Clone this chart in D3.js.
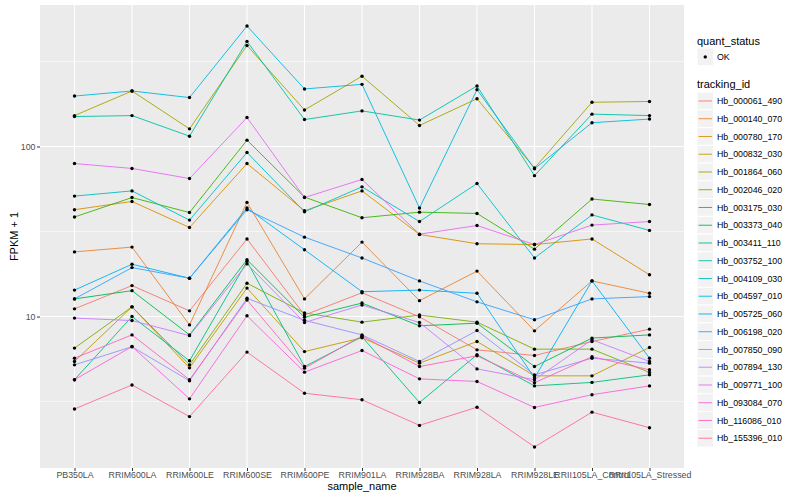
<!DOCTYPE html>
<html>
<head>
<meta charset="utf-8">
<script src="https://cdn.jsdelivr.net/npm/d3@7"></script>
<style>
  body { margin: 0; background: #fff; }
  text { font-family: "Liberation Sans", Arial, sans-serif; }
</style>
</head>
<body>
<div id="chart"></div>
<script>
var width = 800, height = 500;
var panel = { left: 40, right: 684, top: 5, bottom: 468 };

// x categories
var samples = ["PB350LA", "RRIM600LA", "RRIM600LE", "RRIM600SE", "RRIM600PE", "RRIM901LA",
  "RRIM928BA", "RRIM928LA", "RRIM928LE", "RRII105LA_Control", "RRII105LA_Stressed"];

// one array per gene (FPKM + 1), in sample order
var hb_000061_490 = [11.1, 15.2, 10.8, 28.6, 10.2, 13.8, 9.96, 6.37, 5.90, 7.13, 8.43];
var hb_000140_070 = [24.0, 25.6, 8.93, 46.9, 12.7, 27.4, 12.4, 18.5, 8.24, 16.2, 13.7];
var hb_000780_170 = [42.5, 47.5, 33.4, 79.4, 41.9, 54.8, 30.4, 26.8, 26.5, 28.6, 17.6];
var hb_000832_030 = [5.44, 11.4, 4.99, 14.7, 6.22, 7.50, 5.32, 7.13, 4.48, 4.48, 6.58];
var hb_001864_060 = [152, 212, 127, 393, 164, 259, 133, 191, 74.7, 182, 184];
var hb_002046_020 = [6.52, 11.4, 5.20, 15.7, 10.5, 9.27, 10.2, 9.27, 6.43, 6.43, 4.69];
var hb_003175_030 = [38.5, 50.1, 40.9, 109, 50.4, 38.1, 41.1, 40.4, 24.9, 49.1, 45.6];
var hb_003373_040 = [12.7, 14.2, 7.80, 21.6, 9.90, 12.0, 8.82, 9.14, 5.08, 7.47, 7.80];
var hb_003411_110 = [4.25, 10.0, 5.49, 21.1, 5.08, 7.60, 3.12, 5.96, 3.91, 4.10, 4.54];
var hb_003752_100 = [150, 152, 115, 415, 144, 162, 143, 227, 67.4, 155, 152];
var hb_004109_030 = [51.1, 54.8, 36.9, 92.2, 41.3, 57.9, 36.2, 60.6, 22.1, 39.6, 32.1];
var hb_004597_010 = [198, 212, 194, 511, 218, 232, 43.5, 216, 74.0, 138, 145];
var hb_005725_060 = [14.3, 20.3, 16.8, 43.5, 24.7, 14.0, 14.3, 13.7, 4.36, 16.2, 5.69];
var hb_006198_020 = [12.7, 19.4, 16.8, 42.5, 29.3, 22.1, 16.2, 12.2, 9.57, 12.7, 13.1];
var hb_007850_090 = [5.20, 6.64, 4.19, 12.8, 9.50, 7.80, 5.44, 8.27, 4.54, 5.69, 5.32];
var hb_007894_130 = [9.79, 9.47, 7.72, 20.4, 9.22, 11.7, 9.22, 4.92, 4.25, 7.30, 5.44];
var hb_009771_100 = [79.4, 74.3, 64.8, 148, 50.1, 64.0, 30.5, 34.3, 26.5, 34.5, 36.2];
var hb_093084_070 = [4.25, 6.66, 3.28, 10.1, 4.71, 6.31, 4.30, 4.15, 2.92, 3.47, 3.91];
var hb_116086_010 = [5.69, 7.80, 4.25, 12.5, 4.97, 7.69, 5.08, 5.88, 4.08, 5.80, 4.86];
var hb_155396_010 = [2.86, 3.96, 2.58, 6.18, 3.54, 3.24, 2.29, 2.93, 1.71, 2.74, 2.22];

var trackingIds = ["Hb_000061_490", "Hb_000140_070", "Hb_000780_170", "Hb_000832_030",
  "Hb_001864_060", "Hb_002046_020", "Hb_003175_030", "Hb_003373_040", "Hb_003411_110",
  "Hb_003752_100", "Hb_004109_030", "Hb_004597_010", "Hb_005725_060", "Hb_006198_020",
  "Hb_007850_090", "Hb_007894_130", "Hb_009771_100", "Hb_093084_070", "Hb_116086_010",
  "Hb_155396_010"];

var seriesValues = [hb_000061_490, hb_000140_070, hb_000780_170, hb_000832_030,
  hb_001864_060, hb_002046_020, hb_003175_030, hb_003373_040, hb_003411_110,
  hb_003752_100, hb_004109_030, hb_004597_010, hb_005725_060, hb_006198_020,
  hb_007850_090, hb_007894_130, hb_009771_100, hb_093084_070, hb_116086_010,
  hb_155396_010];

var yTicks = [10, 100];
var quantStatus = ["OK"];

// ggplot default hue palette for 20 levels
var palette = ["#F8766D", "#EA8331", "#D89000", "#C09B00", "#A3A500", "#7CAE00", "#39B600",
  "#00BB4E", "#00BF7D", "#00C1A3", "#00BFC4", "#00BAE0", "#00B0F6", "#35A2FF", "#9590FF",
  "#C77CFF", "#E76BF3", "#FA62DB", "#FF62BC", "#FF6C91"];

var axisFont = "8.8px", titleFont = "11px";

var series = trackingIds.map(function (id, i) {
  return { id: id, color: palette[i], values: seriesValues[i].map(function (v, j) {
    return { sample: samples[j], value: v };
  }) };
});

var svg = d3.select("#chart").append("svg")
  .attr("width", width)
  .attr("height", height);

var x = d3.scalePoint()
  .domain(samples)
  .range([panel.left, panel.right])
  .padding(0.6);

// log scale with 5% expansion on the log range, like ggplot
var all = [].concat.apply([], seriesValues);
var lmin = Math.log10(d3.min(all)), lmax = Math.log10(d3.max(all));
var pad = (lmax - lmin) * 0.05;
var y = d3.scaleLog()
  .domain([Math.pow(10, lmin - pad), Math.pow(10, lmax + pad)])
  .range([panel.bottom, panel.top]);

// panel background
svg.append("rect")
  .attr("x", panel.left).attr("y", panel.top)
  .attr("width", panel.right - panel.left)
  .attr("height", panel.bottom - panel.top)
  .attr("fill", "#EBEBEB");

// minor gridlines halfway between decades
var minor = [Math.sqrt(1 * 10), Math.sqrt(10 * 100), Math.sqrt(100 * 1000)];
svg.selectAll(".minor")
  .data(minor).enter().append("line")
  .attr("x1", panel.left).attr("x2", panel.right)
  .attr("y1", function (d) { return y(d); })
  .attr("y2", function (d) { return y(d); })
  .attr("stroke", "#fff").attr("stroke-width", 0.55);

svg.selectAll(".major")
  .data(yTicks).enter().append("line")
  .attr("x1", panel.left).attr("x2", panel.right)
  .attr("y1", function (d) { return y(d); })
  .attr("y2", function (d) { return y(d); })
  .attr("stroke", "#fff").attr("stroke-width", 1.1);

svg.selectAll(".vgrid")
  .data(samples).enter().append("line")
  .attr("x1", function (d) { return x(d); })
  .attr("x2", function (d) { return x(d); })
  .attr("y1", panel.top).attr("y2", panel.bottom)
  .attr("stroke", "#fff").attr("stroke-width", 1.1);

// lines
var line = d3.line()
  .x(function (d) { return x(d.sample); })
  .y(function (d) { return y(d.value); });

svg.selectAll(".series")
  .data(series).enter().append("path")
  .attr("d", function (d) { return line(d.values); })
  .attr("fill", "none")
  .attr("stroke", function (d) { return d.color; })
  .attr("stroke-width", 0.9);

// points
series.forEach(function (s) {
  svg.selectAll(null)
    .data(s.values).enter().append("circle")
    .attr("cx", function (d) { return x(d.sample); })
    .attr("cy", function (d) { return y(d.value); })
    .attr("r", 1.7)
    .attr("fill", "#000");
});

// axes
var yaxis = d3.axisLeft(y)
  .tickValues(yTicks)
  .tickFormat(d3.format("d"))
  .tickSize(3)
  .tickSizeOuter(0);

var gy = svg.append("g")
  .attr("transform", "translate(" + panel.left + ",0)")
  .call(yaxis);
gy.select(".domain").remove();
gy.selectAll("line").attr("stroke", "#333");
gy.selectAll("text").attr("fill", "#4D4D4D").style("font-size", axisFont)
  .style("font-family", "'Liberation Sans', Arial, sans-serif").attr("x", -4.5);

var xaxis = d3.axisBottom(x)
  .tickSize(3)
  .tickSizeOuter(0);

var gx = svg.append("g")
  .attr("transform", "translate(0," + panel.bottom + ")")
  .call(xaxis);
gx.select(".domain").remove();
gx.selectAll("line").attr("stroke", "#333");
gx.selectAll("text").attr("fill", "#4D4D4D").style("font-size", axisFont)
  .style("font-family", "'Liberation Sans', Arial, sans-serif").attr("y", 4);

// axis titles
svg.append("text")
  .attr("x", (panel.left + panel.right) / 2)
  .attr("y", 490)
  .attr("text-anchor", "middle")
  .style("font-size", titleFont)
  .text("sample_name");

svg.append("text")
  .attr("transform", "translate(17.5," + (panel.top + panel.bottom) / 2 + ") rotate(-90)")
  .attr("text-anchor", "middle")
  .style("font-size", titleFont)
  .text("FPKM + 1");

// legend: quant_status
var lx = 697, keyW = 16.5, keyH = 17.75;
svg.append("text")
  .attr("x", lx).attr("y", 44.5)
  .style("font-size", titleFont)
  .text("quant_status");

var q = svg.selectAll(".qkey")
  .data(quantStatus).enter().append("g")
  .attr("transform", function (d, i) { return "translate(" + lx + "," + (48 + i * keyH) + ")"; });
q.append("rect")
  .attr("width", keyW).attr("height", keyH)
  .attr("fill", "#F2F2F2").attr("stroke", "#fff");
q.append("circle")
  .attr("cx", keyW / 2).attr("cy", keyH / 2).attr("r", 1.7).attr("fill", "#000");
q.append("text")
  .attr("x", keyW + 3.5).attr("y", keyH / 2).attr("dy", "0.35em")
  .style("font-size", axisFont)
  .text(function (d) { return d; });

// legend: tracking_id
svg.append("text")
  .attr("x", lx).attr("y", 88)
  .style("font-size", titleFont)
  .text("tracking_id");

var k = svg.selectAll(".tkey")
  .data(series).enter().append("g")
  .attr("transform", function (d, i) { return "translate(" + lx + "," + (92.1 + i * keyH) + ")"; });
k.append("rect")
  .attr("width", keyW).attr("height", keyH)
  .attr("fill", "#F2F2F2").attr("stroke", "#fff");
k.append("line")
  .attr("x1", 1.5).attr("x2", keyW - 1.5)
  .attr("y1", keyH / 2).attr("y2", keyH / 2)
  .attr("stroke", function (d) { return d.color; })
  .attr("stroke-width", 0.9);
k.append("text")
  .attr("x", keyW + 3.5).attr("y", keyH / 2).attr("dy", "0.35em")
  .style("font-size", axisFont)
  .text(function (d) { return d.id; });
</script>
</body>
</html>
